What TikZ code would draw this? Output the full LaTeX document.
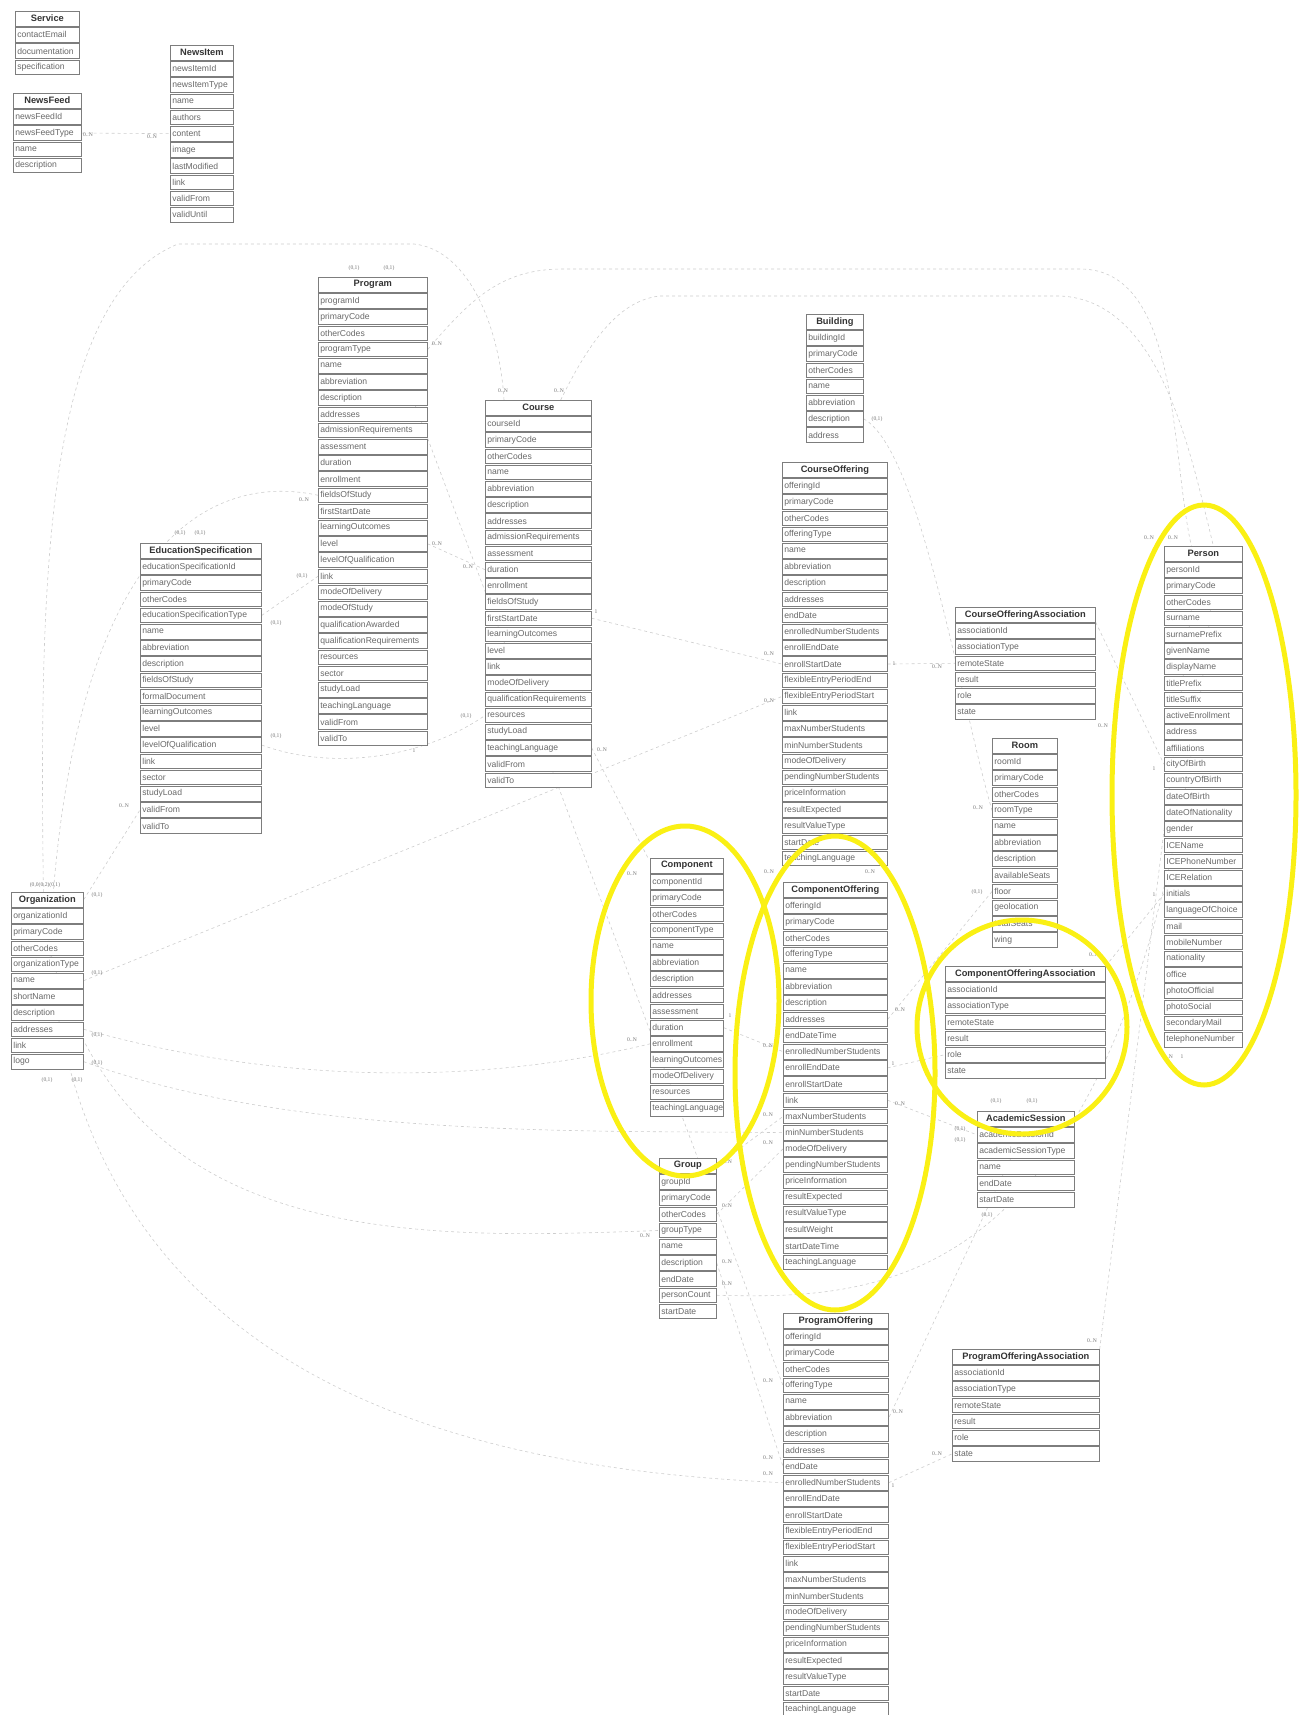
\documentclass[tikz,border=0pt]{standalone}
\usepackage{fontspec}
\setmainfont{Liberation Sans}
\newfontfamily\cardfont{Liberation Serif}
\usetikzlibrary{calc,positioning}
\pgfdeclarelayer{background}
\pgfsetlayers{background,main}
\definecolor{RowGray}{RGB}{125,125,125}
\definecolor{TextGray}{RGB}{105,105,105}
\definecolor{LinkGray}{RGB}{205,205,205}
\definecolor{MarkYellow}{RGB}{250,240,20}

% one entity: name, x, y (top), width, header, attributes
\newcommand{\entity}[6]{%
  \pgfmathsetmacro{\entw}{#4-4}
  \node[headbox, minimum width=#4pt, anchor=north west] (#1) at (#2,#3) {#5};
  \foreach \f [count=\i] in {#6}
    \node[rowbox, text width=\entw pt, anchor=north west] (#1-\i) at (#2,{#3+\i*16.2}) {\f};
}

\begin{document}
\begin{tikzpicture}[x=1pt, y=-1pt,
    headbox/.style={draw=RowGray, fill=white, line width=0.7pt, minimum height=14.6pt, inner sep=0pt, font=\fontsize{9.3}{10}\selectfont\bfseries, text=black!80},
    rowbox/.style={draw=RowGray, fill=white, line width=0.7pt, minimum height=14.6pt, inner xsep=2pt, inner ysep=0pt, align=left, font=\fontsize{8.6}{9}\selectfont, text=TextGray},
    rel/.style={draw=LinkGray, dashed, line width=0.6pt},
    card/.style={font=\cardfont\fontsize{5.6}{6}\selectfont, text=black!55, inner sep=0.5pt},
    hilite/.style={draw=MarkYellow, line width=5pt}]
    \useasboundingbox (0,0) rectangle (1303,1715);

    % entities
    \entity{Service}{15}{11}{64}{Service}{contactEmail, documentation, specification}
    \entity{NewsFeed}{13}{93}{68}{NewsFeed}{newsFeedId, newsFeedType, name, description}
    \entity{NewsItem}{170}{45}{63}{NewsItem}{newsItemId, newsItemType, name, authors, content, image, lastModified, link, validFrom, validUntil}
    \entity{Program}{318}{277}{109}{Program}{programId, primaryCode, otherCodes, programType, name, abbreviation, description, addresses, admissionRequirements, assessment, duration, enrollment, fieldsOfStudy, firstStartDate, learningOutcomes, level, levelOfQualification, link, modeOfDelivery, modeOfStudy, qualificationAwarded, qualificationRequirements, resources, sector, studyLoad, teachingLanguage, validFrom, validTo}
    \entity{Course}{485}{400}{106}{Course}{courseId, primaryCode, otherCodes, name, abbreviation, description, addresses, admissionRequirements, assessment, duration, enrollment, fieldsOfStudy, firstStartDate, learningOutcomes, level, link, modeOfDelivery, qualificationRequirements, resources, studyLoad, teachingLanguage, validFrom, validTo}
    \entity{EducationSpecification}{140}{543}{121}{EducationSpecification}{educationSpecificationId, primaryCode, otherCodes, educationSpecificationType, name, abbreviation, description, fieldsOfStudy, formalDocument, learningOutcomes, level, levelOfQualification, link, sector, studyLoad, validFrom, validTo}
    \entity{Organization}{11}{892}{72}{Organization}{organizationId, primaryCode, otherCodes, organizationType, name, shortName, description, addresses, link, logo}
    \entity{Building}{806}{314}{57}{Building}{buildingId, primaryCode, otherCodes, name, abbreviation, description, address}
    \entity{CourseOffering}{782}{462}{105}{CourseOffering}{offeringId, primaryCode, otherCodes, offeringType, name, abbreviation, description, addresses, endDate, enrolledNumberStudents, enrollEndDate, enrollStartDate, flexibleEntryPeriodEnd, flexibleEntryPeriodStart, link, maxNumberStudents, minNumberStudents, modeOfDelivery, pendingNumberStudents, priceInformation, resultExpected, resultValueType, startDate, teachingLanguage}
    \entity{CourseOfferingAssociation}{955}{607}{140}{CourseOfferingAssociation}{associationId, associationType, remoteState, result, role, state}
    \entity{Room}{992}{738}{65}{Room}{roomId, primaryCode, otherCodes, roomType, name, abbreviation, description, availableSeats, floor, geolocation, totalSeats, wing}
    \entity{Person}{1164}{546}{78}{Person}{personId, primaryCode, otherCodes, surname, surnamePrefix, givenName, displayName, titlePrefix, titleSuffix, activeEnrollment, address, affiliations, cityOfBirth, countryOfBirth, dateOfBirth, dateOfNationality, gender, ICEName, ICEPhoneNumber, ICERelation, initials, languageOfChoice, mail, mobileNumber, nationality, office, photoOfficial, photoSocial, secondaryMail, telephoneNumber}
    \entity{Component}{650}{858}{73}{Component}{componentId, primaryCode, otherCodes, componentType, name, abbreviation, description, addresses, assessment, duration, enrollment, learningOutcomes, modeOfDelivery, resources, teachingLanguage}
    \entity{ComponentOffering}{783}{882}{104}{ComponentOffering}{offeringId, primaryCode, otherCodes, offeringType, name, abbreviation, description, addresses, endDateTime, enrolledNumberStudents, enrollEndDate, enrollStartDate, link, maxNumberStudents, minNumberStudents, modeOfDelivery, pendingNumberStudents, priceInformation, resultExpected, resultValueType, resultWeight, startDateTime, teachingLanguage}
    \entity{ComponentOfferingAssociation}{945}{966}{160}{ComponentOfferingAssociation}{associationId, associationType, remoteState, result, role, state}
    \entity{AcademicSession}{977}{1111}{97}{AcademicSession}{academicSessionId, academicSessionType, name, endDate, startDate}
    \entity{Group}{659}{1158}{57}{Group}{groupId, primaryCode, otherCodes, groupType, name, description, endDate, personCount, startDate}
    \entity{ProgramOffering}{783}{1313}{105}{ProgramOffering}{offeringId, primaryCode, otherCodes, offeringType, name, abbreviation, description, addresses, endDate, enrolledNumberStudents, enrollEndDate, enrollStartDate, flexibleEntryPeriodEnd, flexibleEntryPeriodStart, link, maxNumberStudents, minNumberStudents, modeOfDelivery, pendingNumberStudents, priceInformation, resultExpected, resultValueType, startDate, teachingLanguage}
    \entity{ProgramOfferingAssociation}{952}{1349}{147}{ProgramOfferingAssociation}{associationId, associationType, remoteState, result, role, state}

    % connectors
    \begin{pgfonlayer}{background}
    \draw[rel] (NewsFeed-2.east) -- (NewsItem-5.west);
    \draw[rel] ([xshift=-4pt]Organization.north) .. controls (40,600) and (40,300) .. (178,244) -- (414,244) .. controls (470,250) and (500,330) .. ([xshift=19pt]Course.north west);
    \draw[rel] (Program-13.west) .. controls (200,470) and (80,560) .. ([xshift=6pt]Organization.north);
    \draw[rel] (Program-4.east) .. controls (470,300) and (500,270) .. (560,269) -- (1080,269) .. controls (1180,269) and (1170,450) .. ([xshift=-12pt]Person.north);
    \draw[rel] ([xshift=-31pt]Course.north east) .. controls (590,340) and (620,300) .. (660,296) -- (1060,296) .. controls (1160,300) and (1190,450) .. ([xshift=10pt]Person.north);
    \draw[rel] (EducationSpecification-4.east) -- (Program-18.west);
    \draw[rel] (EducationSpecification-12.east) .. controls (330,770) and (420,760) .. (Course-19.west);
    \draw[rel] (Program-16.east) -- (Course-10.west);
    \draw[rel] (Course-13.east) -- (CourseOffering-12.west);
    \draw[rel] (Course-21.east) -- ([xshift=-2pt]Component.north west);
    \draw[rel] (Organization-5.east) -- (CourseOffering-14.west);
    \draw[rel] (Organization.east) -- (EducationSpecification-16.west);
    \draw[rel] (Organization-8.east) .. controls (300,1090) and (500,1080) .. (Component-11.west);
    \draw[rel] (Organization-10.east) .. controls (300,1140) and (600,1130) .. (ComponentOffering-15.west);
    \draw[rel] (Program.south) -- (ProgramOffering-4.west);
    \draw[rel] (Building-6.east) .. controls (920,450) and (960,700) .. (Room-4.west);
    \draw[rel] (CourseOffering-12.east) -- (CourseOfferingAssociation-3.west);
    \draw[rel] (CourseOfferingAssociation.south east) -- (Person-13.west);
    \draw[rel] (ComponentOfferingAssociation.north east) -- (Person-21.west);
    \draw[rel] (ComponentOffering-8.east) -- (Room-9.west);
    \draw[rel] (ComponentOffering-11.east) -- (ComponentOfferingAssociation-5.west);
    \draw[rel] (ComponentOffering-13.east) -- (AcademicSession-1.west);
    \draw[rel] (AcademicSession.south) -- (ProgramOffering-6.east);
    \draw[rel] (ProgramOffering-10.east) -- (ProgramOfferingAssociation-6.west);
    \draw[rel] (ProgramOfferingAssociation.north east) -- ([xshift=-6pt]Person.south);
    \draw[rel] (Component-10.east) -- (ComponentOffering-10.west);
    \draw[rel] (Group.east) -- (ComponentOffering-14.west);
    \draw[rel] (Group-3.east) -- (ComponentOffering-16.west);
    \draw[rel] (Group-6.east) -- (ProgramOffering-9.west);
    \draw[rel] (Group-8.east) .. controls (900,1300) and (1150,1290) .. ([xshift=12pt]Person.south);
    \draw[rel] (Organization.south) .. controls (60,1400) and (500,1470) .. (ProgramOffering-10.west);
    \draw[rel] ([xshift=30pt]Organization.south west) .. controls (100,1250) and (400,1240) .. (Group-4.west);
    \end{pgfonlayer}

    % cardinalities
    \foreach \x/\y/\t [count=\k] in {88/135/0..N, 152/137/0..N,
        354/268/{(0,1)}, 389/268/{(0,1)}, 437/344/0..N, 437/544/0..N, 414/751/1,
        304/500/0..N, 302/576/{(0,1)}, 180/533/{(0,1)}, 200/533/{(0,1)},
        276/623/{(0,1)}, 276/736/{(0,1)}, 124/806/0..N,
        503/391/0..N, 559/391/0..N, 468/567/0..N, 466/716/{(0,1)}, 596/612/1, 602/750/0..N,
        45/885/{(0,0(0,2)(0,1)}, 97/895/{(0,1)}, 97/973/{(0,1)}, 97/1035/{(0,1)}, 97/1063/{(0,1)},
        47/1080/{(0,1)}, 77/1080/{(0,1)},
        877/419/{(0,1)}, 769/654/0..N, 769/701/0..N, 894/664/1, 937/667/0..N, 1103/726/0..N,
        1154/769/1, 1154/895/1, 1149/538/0..N, 1173/538/0..N, 1168/1057/0..N, 1182/1057/1,
        978/808/0..N, 977/892/{(0,1)}, 1094/955/0..N,
        632/874/0..N, 632/1040/0..N, 730/1016/1,
        769/872/0..N, 870/872/0..N, 768/1046/0..N, 768/1115/0..N, 768/1143/0..N,
        900/1010/0..N, 893/1064/1, 900/1104/0..N,
        996/1101/{(0,1)}, 1032/1101/{(0,1)}, 960/1129/{(0,1)}, 960/1140/{(0,1)}, 987/1215/{(0,1)},
        727/1162/0..N, 727/1206/0..N, 727/1262/0..N, 727/1284/0..N, 645/1236/0..N,
        768/1381/0..N, 768/1458/0..N, 768/1474/0..N, 898/1412/0..N, 893/1486/1,
        1092/1341/0..N, 937/1454/0..N}
        \node[card] (card\k) at (\x,\y) {\t};

    % yellow highlights
    \draw[hilite] (1204,795) ellipse [x radius=92pt, y radius=290pt];
    \draw[hilite] (685,1001) ellipse [x radius=94pt, y radius=175pt];
    \draw[hilite] (835,1073) ellipse [x radius=100pt, y radius=237pt];
    \draw[hilite] (1022,1027) ellipse [x radius=105pt, y radius=107pt];
\end{tikzpicture}
\end{document}
